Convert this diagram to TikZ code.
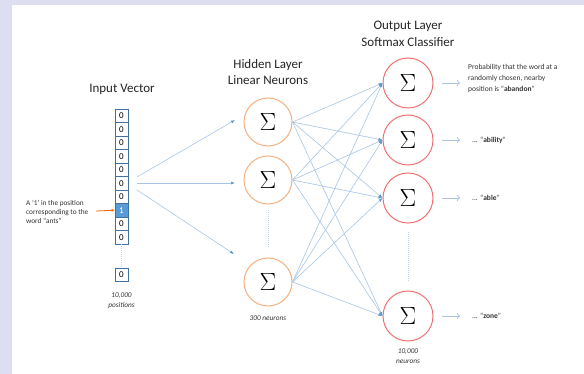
\documentclass[tikz,border=0pt]{standalone}
\usepackage{fontspec}
\setmainfont{Carlito}
\usetikzlibrary{arrows.meta}
\definecolor{lav}{HTML}{DDDEF2}
\definecolor{lineblue}{HTML}{A9C6E6}
\definecolor{dotblue}{HTML}{C5D7EC}
\definecolor{tipblue}{HTML}{5B9BD5}
\definecolor{cellborder}{HTML}{41719C}
\definecolor{hidorange}{HTML}{F4B183}
\definecolor{outred}{HTML}{F07070}
\definecolor{txt}{HTML}{333333}
\tikzset{
  cell/.style={draw=cellborder, line width=0.7pt, fill=white, minimum width=13pt, minimum height=13.4pt, inner sep=0pt, font=\fontsize{9}{9}\selectfont},
  onecell/.style={cell, fill=tipblue, text=white},
  hid/.style={circle, draw=hidorange, line width=1pt, minimum size=48pt, inner sep=0pt, font=\fontsize{25}{25}\selectfont},
  outn/.style={circle, draw=outred, line width=1pt, minimum size=50pt, inner sep=0pt, font=\fontsize{25}{25}\selectfont},
  title/.style={align=center, font=\fontsize{13}{16.5}\selectfont, text=black!85},
  small/.style={align=left, font=\fontsize{7.5}{11}\selectfont, text=txt, inner sep=0pt},
  note/.style={align=center, font=\fontsize{7.3}{10}\selectfont\itshape, text=txt, inner sep=0pt},
  conn/.style={draw=lineblue, line width=0.6pt, -{Latex[length=4pt,width=3pt,color=tipblue]}},
  outarrow/.style={draw=lineblue, line width=0.8pt, -{To[length=3pt,width=6pt]}},
  dots/.style={draw=dotblue, line width=0.5pt, dash pattern=on 0.8pt off 1.2pt},
}
\begin{document}
\begin{tikzpicture}[x=1pt,y=-1pt]
\fill[lav] (0,0) rectangle (584,374);
\fill[white] (12,5) rectangle (584,374);
\useasboundingbox (0,0) rectangle (584,374);

% input vector
\node[title] (tin) at (122,89) {Input Vector};
\foreach \i/\v in {1/0,2/0,3/0,4/0,5/0,6/0,7/0,9/0,10/0}{
  \node[cell] (c\i) at (121.5,{109+13.5*(\i-1)+6.7}) {\v};
}
\node[onecell] (c8) at (121.5,{109+13.5*7+6.7}) {1};
\node[cell] (cn) at (121.5,275) {0};
\draw[dots] (c10.south) -- (cn.north);
\node[note] (npos) at (121.5,301) {\itshape 10,000\\\itshape positions};

\node[small, anchor=west, font=\fontsize{7.3}{9}\selectfont] (ants) at (26,212) {A ‘1’ in the position\\corresponding to the\\word “ants”};
\coordinate (antsend) at (96,211);
\draw[draw=orange!80!red, line width=0.8pt, -{Latex[length=3pt,width=3pt]}] (antsend) -- (c8.west);

% hidden layer
\node[title] (thid) at (268,72) {Hidden Layer\\Linear Neurons};
\node[hid] (h1) at (268,122) {$\Sigma$};
\node[hid] (h2) at (268,180) {$\Sigma$};
\node[hid] (h3) at (268,282) {$\Sigma$};
\draw[dots] (268,210) -- (268,248);
\node[note] (n300) at (268,318) {\itshape 300 neurons};

\coordinate (s1) at (137,177);
\coordinate (s2) at (137,183);
\coordinate (s3) at (137,190);
\coordinate (e1) at (235,120);
\coordinate (e2) at (235,183);
\coordinate (e3) at (234,254);
\draw[conn] (s1) -- (e1);
\draw[conn] (s2) -- (e2);
\draw[conn] (s3) -- (e3);

% output layer
\node[title] (tout) at (408,34) {Output Layer\\Softmax Classifier};
\node[outn] (o1) at (408,83) {$\Sigma$};
\node[outn] (o2) at (408,140) {$\Sigma$};
\node[outn] (o3) at (408,198) {$\Sigma$};
\node[outn] (o4) at (408,316) {$\Sigma$};
\draw[dots] (408,232) -- (408,282);
\node[note] (n10k) at (408,356) {\itshape 10,000\\\itshape neurons};

\foreach \h in {1,2,3}{
  \foreach \o in {1,2,3,4}{
    \draw[conn] (h\h.east) -- (o\o.west);
  }
}

% output labels
\foreach \o/\y in {1/83,2/140,3/198,4/316}{
  \coordinate (a\o) at (442,\y);
  \coordinate (b\o) at (460,\y);
  \draw[outarrow] (a\o) -- (b\o);
}
\node[small, anchor=north west] (l1) at (468,64) {Probability that the word at a\\randomly chosen, nearby\\position is “\textbf{abandon}”};
\node[small, anchor=west] (l2) at (472,140) {... “\textbf{ability}”};
\node[small, anchor=west] (l3) at (472,198) {... “\textbf{able}”};
\node[small, anchor=west] (l4) at (472,316) {... “\textbf{zone}”};
\end{tikzpicture}
\end{document}
